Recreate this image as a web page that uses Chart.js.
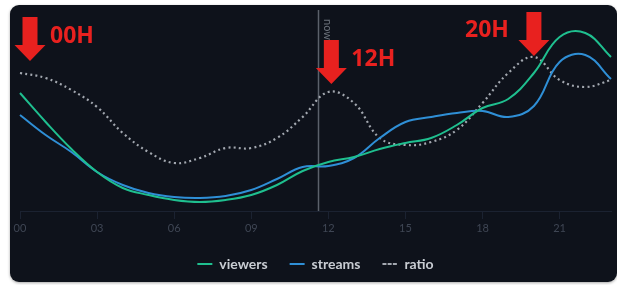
<!DOCTYPE html>
<html lang="en">
<head>
    <meta charset="UTF-8">
    <title>Viewers / streams by hour</title>
    <script src="https://cdn.jsdelivr.net/npm/chart.js"></script>
    <style>
        body { margin: 0; background: #ffffff; width: 617px; height: 285px; overflow: hidden; }
        .painel {
            position: absolute; left: 10px; top: 5px; width: 607px; height: 277px;
            background: #0e121b; border-radius: 9px;
            box-shadow: 0 1px 3px rgba(0,0,0,0.35);
        }
        #grafico { position: absolute; left: 0; top: 0; }
    </style>
</head>
<body>
    <div class="painel"></div>
    <canvas id="grafico" width="617" height="285"></canvas>

<script>
    // hours of the day
    const horas = ['00','01','02','03','04','05','06','07','08','09','10','11',
                   '12','13','14','15','16','17','18','19','20','21','22','23'];

    // values (arbitrary units, 0 = axis)
    const viewers = [118, 89, 62, 39, 23, 16, 11, 9, 11, 16, 26, 40,
                     49, 54, 62, 68, 73, 86, 103, 112, 138, 174, 178, 154];
    const streams = [96, 76, 59, 39, 26, 18, 14, 13, 15, 21, 32, 44,
                     45, 53, 73, 89, 94, 98, 100, 94, 105, 149, 156, 132];
    const ratio   = [138, 133, 121, 104, 78, 59, 48, 53, 63, 63, 73, 94,
                     119, 108, 73, 66, 69, 81, 108, 138, 154, 131, 124, 131];

    // "now" marker and the red callouts
    const agora = 11.6;
    const chamadas = [
        { hora: 0,  texto: '00H', lado: 'direita', topo: 17, dx: 10 },
        { hora: 12, texto: '12H', lado: 'direita', topo: 40, dx: 3 },
        { hora: 20, texto: '20H', lado: 'esquerda', topo: 12, dx: 0 }
    ];

    const vermelho = '#e8211f';

    const pluginExtras = {
        id: 'extras',
        beforeDatasetsDraw(chart) {
            const ctx = chart.ctx;
            const x = Math.round(chart.scales.x.getPixelForValue(agora)) + 0.5;
            ctx.save();
            ctx.strokeStyle = '#5b616b';
            ctx.lineWidth = 1.5;
            ctx.beginPath();
            ctx.moveTo(x, 10);
            ctx.lineTo(x, chart.chartArea.bottom);
            ctx.stroke();
            ctx.translate(x + 4, 19);
            ctx.rotate(Math.PI / 2);
            ctx.fillStyle = '#6b717b';
            ctx.font = '11px Lato';
            ctx.textBaseline = 'bottom';
            ctx.fillText('now', 0, 0);
            ctx.restore();
        },
        afterDraw(chart) {
            const ctx = chart.ctx;
            ctx.save();
            chamadas.forEach(function (c) {
                const cx = chart.scales.x.getPixelForValue(c.hora) + c.dx;
                const y0 = c.topo;
                // arrow pointing down
                ctx.fillStyle = vermelho;
                ctx.beginPath();
                ctx.moveTo(cx - 7.5, y0);
                ctx.lineTo(cx + 7.5, y0);
                ctx.lineTo(cx + 7.5, y0 + 28);
                ctx.lineTo(cx + 15.5, y0 + 28);
                ctx.lineTo(cx, y0 + 44);
                ctx.lineTo(cx - 15.5, y0 + 28);
                ctx.lineTo(cx - 7.5, y0 + 28);
                ctx.closePath();
                ctx.fill();

                ctx.font = 'bold 23px "Open Sans"';
                ctx.textBaseline = 'middle';
                if (c.lado === 'direita') {
                    ctx.textAlign = 'left';
                    ctx.fillText(c.texto, cx + 20, y0 + 19);
                } else {
                    ctx.textAlign = 'right';
                    ctx.fillText(c.texto, cx - 25, y0 + 18);
                }
            });
            ctx.restore();
        }
    };

    const dados = {
        labels: horas,
        datasets: [
            {
                label: 'viewers',
                data: viewers,
                borderColor: '#1fbf8f',
                backgroundColor: '#1fbf8f',
                borderWidth: 2,
                tension: 0.4,
                pointRadius: 0
            },
            {
                label: 'streams',
                data: streams,
                borderColor: '#2f8fd6',
                backgroundColor: '#2f8fd6',
                borderWidth: 2,
                tension: 0.4,
                pointRadius: 0
            },
            {
                label: 'ratio',
                data: ratio,
                borderColor: '#a3a8b0',
                backgroundColor: '#a3a8b0',
                borderWidth: 2.2,
                borderDash: [2, 3.2],
                tension: 0.4,
                pointRadius: 0
            }
        ]
    };

    const config = {
        type: 'line',
        data: dados,
        options: {
            responsive: false,
            animation: false,
            layout: { padding: { left: 20, right: 6, top: 11, bottom: 4 } },
            scales: {
                x: {
                    offset: false,
                    border: { color: '#1b2231', width: 1 },
                    grid: {
                        drawOnChartArea: false,
                        tickLength: 8,
                        color: function (c) { return c.index % 3 === 0 ? '#1b2231' : 'rgba(0,0,0,0)'; }
                    },
                    ticks: {
                        autoSkip: false,
                        maxRotation: 0,
                        padding: 3,
                        color: '#3f4654',
                        font: { family: 'Lato', size: 11 },
                        callback: function (v, i) { return i % 3 === 0 ? horas[i] : ''; }
                    },
                    afterFit: function (s) { s.height = 24; }
                },
                y: { display: false, min: 0, max: 200 }
            },
            plugins: {
                tooltip: { enabled: false },
                legend: {
                    position: 'bottom',
                    labels: {
                        color: '#c9cdd3',
                        font: { family: 'Lato', size: 14, weight: 'bold' },
                        boxWidth: 15,
                        boxHeight: 0,
                        padding: 22
                    }
                }
            }
        },
        plugins: [pluginExtras]
    };

    let meuGrafico = new Chart(document.getElementById('grafico'), config);
</script>
</body>
</html>
